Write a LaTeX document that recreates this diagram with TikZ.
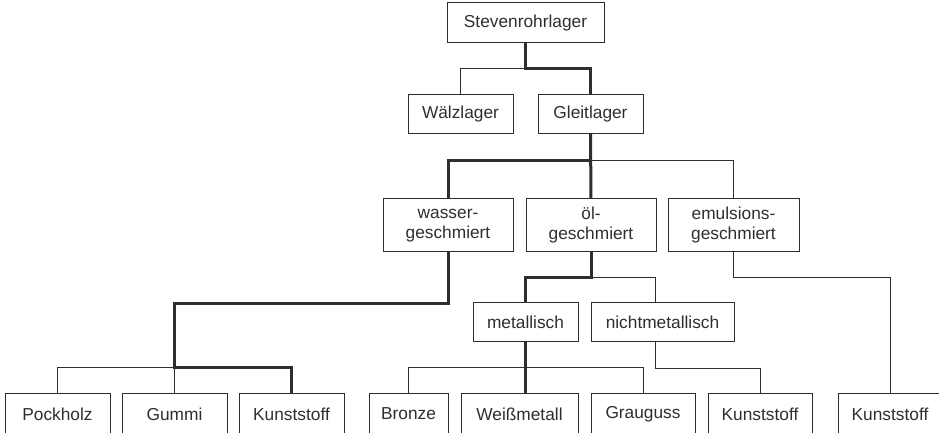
\documentclass[tikz,border=0pt]{standalone}
\usepackage{fontspec}
\setmainfont{Liberation Sans}
\usetikzlibrary{calc}
\definecolor{inkgray}{HTML}{2E2E2E}
\tikzset{
  box/.style={draw=inkgray, line width=0.5pt, inner sep=0pt, text=inkgray,
    align=center, minimum width=#1*0.5pt, minimum height=19.5pt,
    font=\fontsize{8.65}{10}\selectfont},
  twoline/.style={minimum height=26.5pt},
  bottomrow/.style={minimum height=20pt},
  thinline/.style={draw=inkgray, line width=0.5pt},
  thickline/.style={draw=inkgray, line width=1.5pt}
}
\begin{document}
\begin{tikzpicture}[x=0.5pt, y=-0.5pt]
\useasboundingbox (0,0) rectangle (939,433);

% Ebene 0 und 1
\node[box=157, minimum height=20pt] (steven) at (525.5, 23) {Stevenrohrlager};
\node[box=105] (waelz) at (460.5, 114.5) {Wälzlager};
\node[box=105] (gleit) at (590.5, 114.5) {Gleitlager};

% Schmierung
\node[box=130, twoline] (wasser) at (448, 225.5) {wasser-\\geschmiert};
\node[box=130, twoline] (oel) at (591, 225.5) {öl-\\geschmiert};
\node[box=131, twoline] (emul) at (733.5, 225.5) {emulsions-\\geschmiert};

\node[box=105] (metall) at (525.5, 322.5) {metallisch};
\node[box=143] (nicht) at (662.5, 322.5) {nichtmetallisch};

% Werkstoffe
\node[box=105, bottomrow] (pock) at (57.5, 414) {Pockholz};
\node[box=105, bottomrow] (gummi) at (174.5, 414) {Gummi};
\node[box=105, bottomrow] (kunsta) at (291.5, 414) {Kunststoff};
\node[box=79, bottomrow] (bronze) at (408.5, 414) {Bronze};
\node[box=117, bottomrow] (weiss) at (519.5, 414) {Weißmetall};
\node[box=104, bottomrow] (grau) at (643, 414) {Grauguss};
\node[box=104, bottomrow] (kunstb) at (760, 414) {Kunststoff};
\node[box=104, bottomrow] (kunstc) at (890, 414) {Kunststoff};

% duenne Verbindungen
\draw[thinline] (steven.south) -- ++(0,25) -| (waelz.north);
\draw[thinline] (gleit.south) -- ++(0,26) -| (emul.north);
\draw[thinline] (pock.north) -- ++(0,-26) -| (kunsta.north);
\draw[thinline] (gummi.north) -- ++(0,-26);
\draw[thinline] (oel.south) -- ++(0,25) -| ($(nicht.north west)+(65,0)$);
\draw[thinline] (bronze.north) -- ++(0,-26) -| (grau.north);
\draw[thinline] ($(nicht.south west)+(65,0)$) -- ++(0,26) -| (kunstb.north);
\draw[thinline] (emul.south) -- ++(0,25) -| (kunstc.north);

% dicke Verbindungen
\coordinate (wbus) at ($(gummi.north)+(0,-26)$);
\draw[thickline] (steven.south) -- ++(0,25) -| (gleit.north);
\draw[thickline] (gleit.south) -- (oel.north);
\draw[thickline] (gleit.south) -- ++(0,26) -| (wasser.north);
\draw[thickline] (wasser.south) -- ++(0,51) -| (wbus) -| (kunsta.north);
\draw[thickline] (oel.south) -- ++(0,25) -| (metall.north);
\draw[thickline] (metall.south) -- (metall.south |- weiss.north);
\end{tikzpicture}
\end{document}
